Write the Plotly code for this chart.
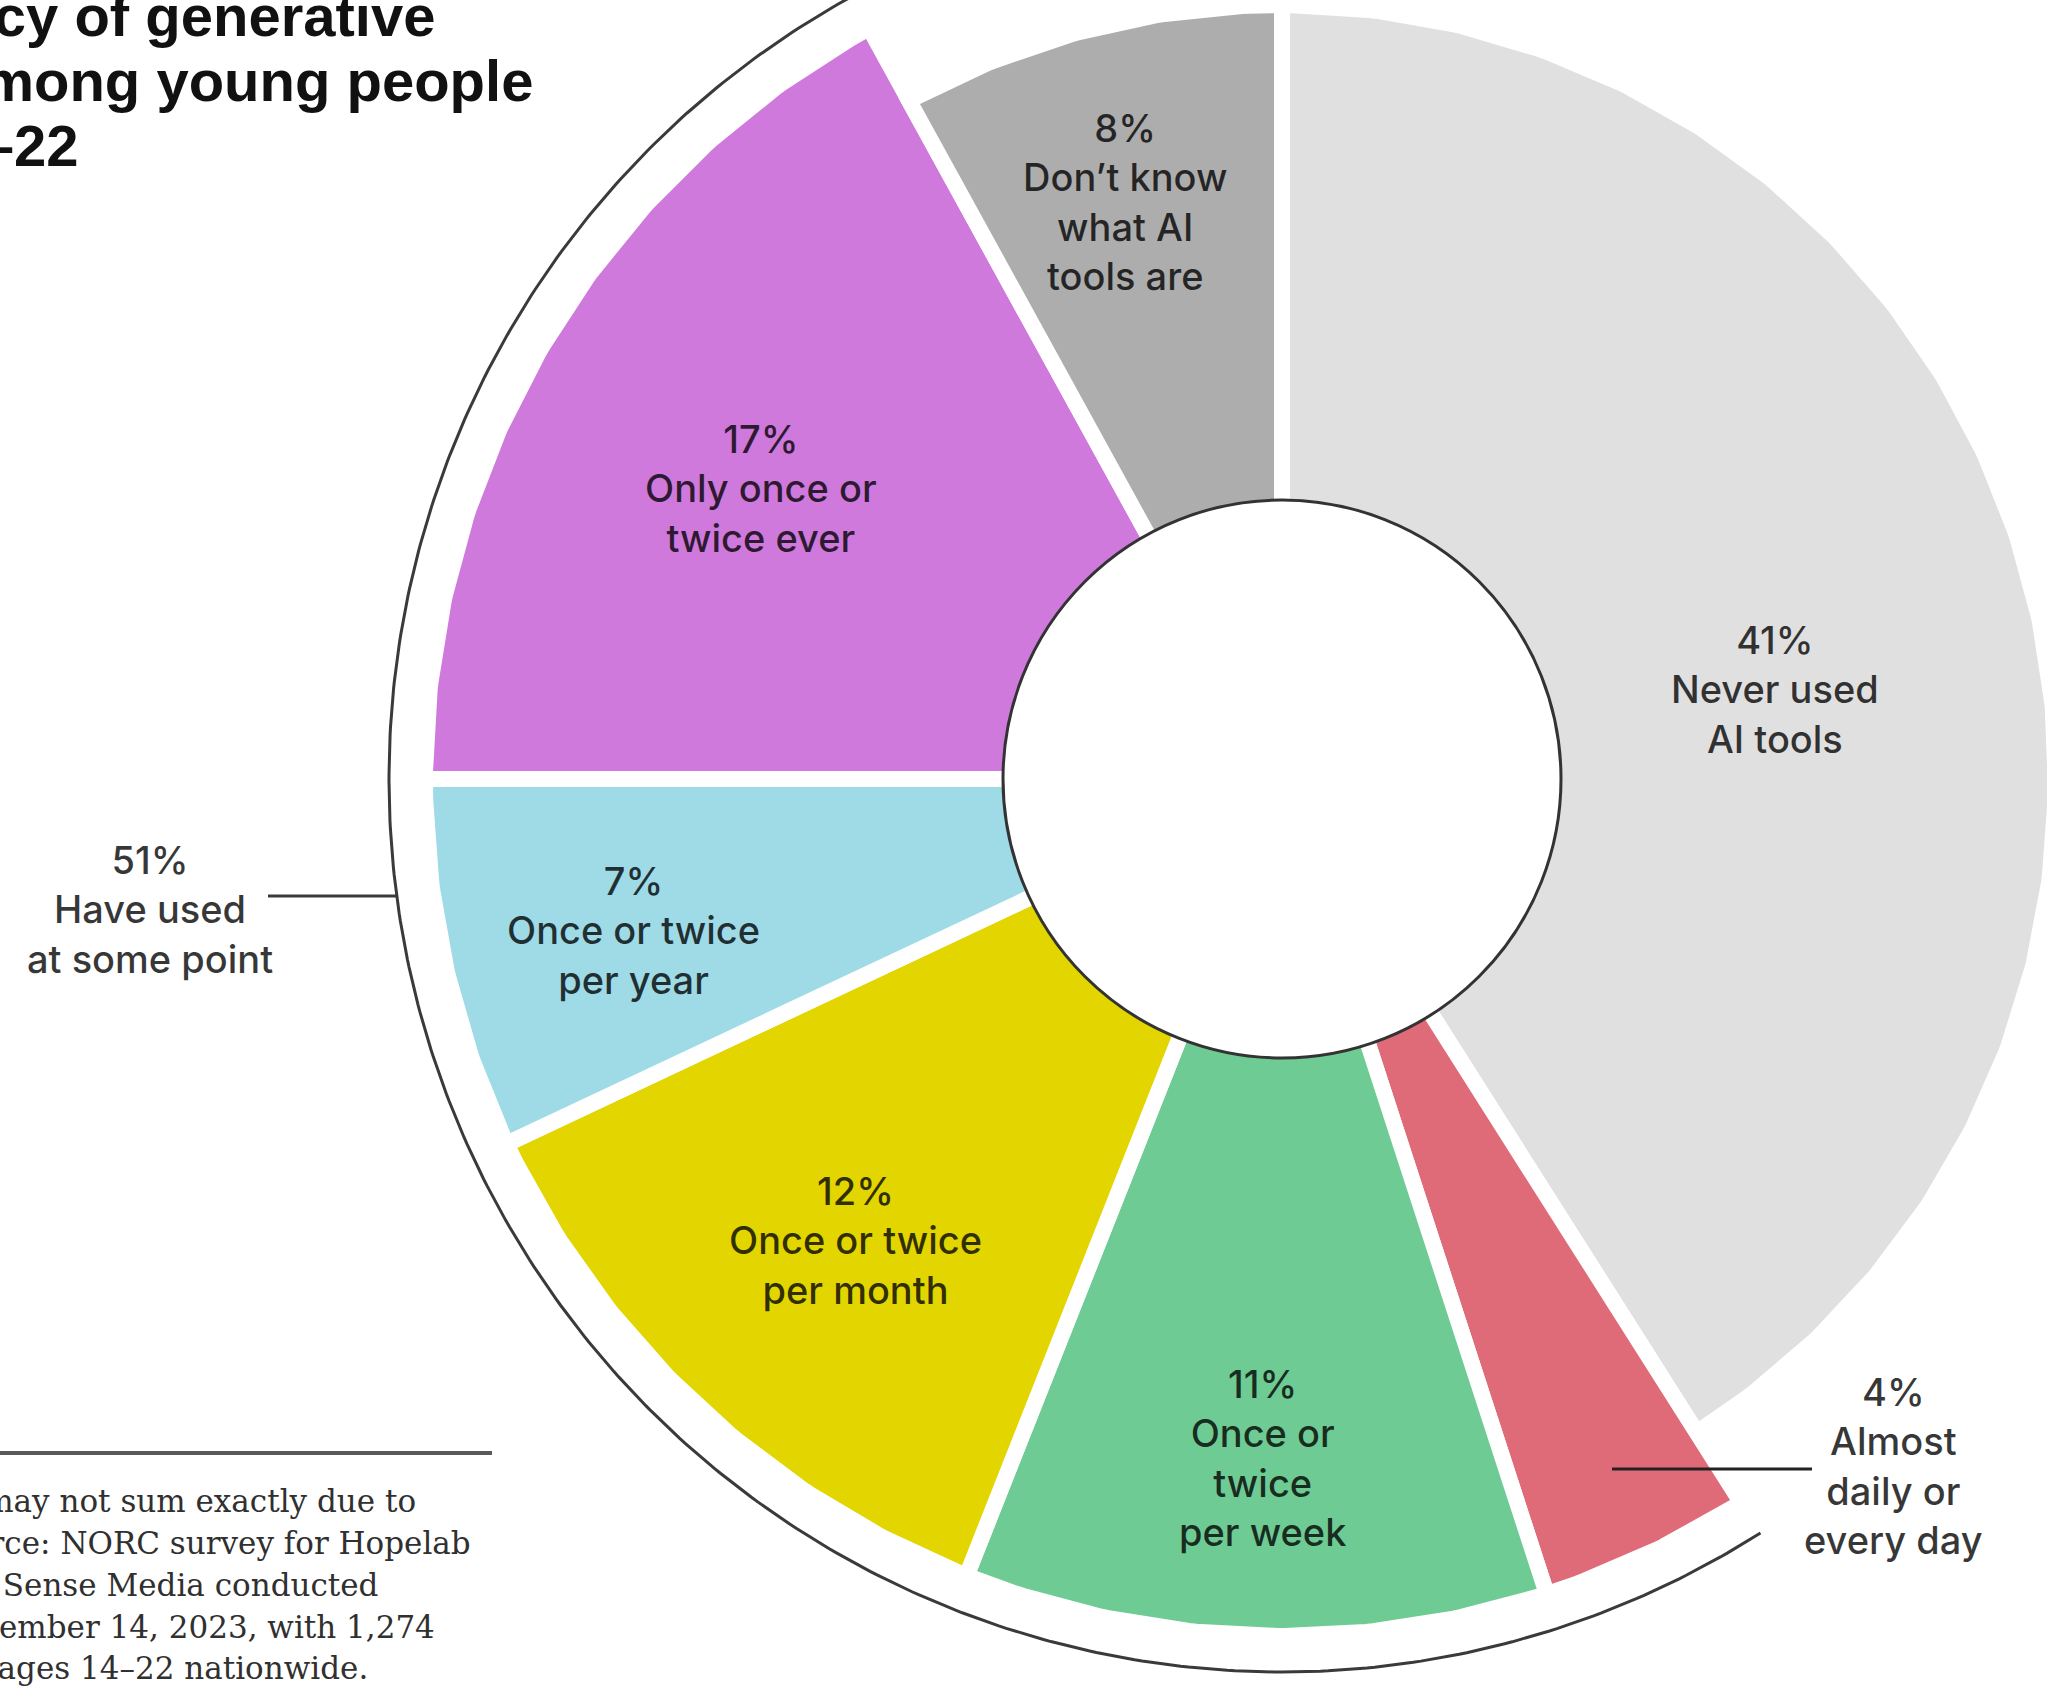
import numpy as np
import plotly.graph_objects as go

# ---------------- data ----------------
categories = [
    "Never used AI tools",
    "Almost daily or every day",
    "Once or twice per week",
    "Once or twice per month",
    "Once or twice per year",
    "Only once or twice ever",
    "Don't know what AI tools are",
]
values = [41, 4, 11, 12, 7, 17, 8]
have_used = [False, True, True, True, True, True, False]
slice_labels = [
    "41%<br>Never used<br>AI tools",
    "4%<br>Almost<br>daily or<br>every day",
    "11%<br>Once or<br>twice<br>per week",
    "12%<br>Once or twice<br>per month",
    "7%<br>Once or twice<br>per year",
    "17%<br>Only once or<br>twice ever",
    "8%<br>Don’t know<br>what AI<br>tools are",
]
group_label = "51%<br>Have used<br>at some point"
title_lines = ["Frequency of generative", "AI use among young people", "ages 14–22"]
note_lines = [
    "Percentages may not sum exactly due to",
    "rounding. Source: NORC survey for Hopelab",
    "and Common Sense Media conducted",
    "October 13–November 14, 2023, with 1,274",
    "young people ages 14–22 nationwide.",
]

# ---------------- style / layout ----------------
colors = ["#e0e0e0", "#e06b78", "#6fcb94", "#e2d500", "#9edbe7", "#cf79dd", "#adadad"]
W, H = 2047, 1686
CX, CY = 1282, 779           # pie centre in figure pixels
R_USED, R_NOT = 849, 766     # outer radii
HOLE = 279
GAP = 16
R_BRACKET = 893
LABEL_FONT = dict(family="Inter", size=38, color="rgba(0,0,0,0.78)", weight=500)

# label positions (centre of text block, relative to pie centre, y up)
label_pos = [(493, 90), (611, -687), (-20, -679), (-427, -461), (-649, -151), (-521, 291), (-157, 577)]


def arc(r, a0, a1):
    n = max(int(abs(a1 - a0) * 2) + 2, 8)
    t = np.radians(np.linspace(a0, a1, n))
    return r * np.sin(t), r * np.cos(t)


fig = go.Figure()

cum = np.cumsum(values)
total = cum[-1]
starts = 360.0 * (cum - np.array(values)) / total
ends = 360.0 * cum / total

for cat, s, e, col, used in zip(categories, starts, ends, colors, have_used):
    r = (R_USED if used else R_NOT) + GAP / 2
    xs, ys = arc(r, s, e)
    fig.add_trace(go.Scatter(
        x=np.concatenate([[0], xs, [0]]), y=np.concatenate([[0], ys, [0]]),
        mode="lines", fill="toself", fillcolor=col,
        line=dict(color="white", width=GAP), name=cat,
        hoverinfo="skip", showlegend=False))

# bracket arc around the "have used" group
used_idx = [i for i, u in enumerate(have_used) if u]
a_start, a_end = starts[used_idx[0]], ends[used_idx[-1]]
bx, by = arc(R_BRACKET, a_start, a_end)
fig.add_trace(go.Scatter(x=bx, y=by, mode="lines", line=dict(color="#3a3a3a", width=3),
                         hoverinfo="skip", showlegend=False))

# tick from group label to bracket
tick_y = -117
tick_x_end = -np.sqrt(R_BRACKET ** 2 - tick_y ** 2)
fig.add_trace(go.Scatter(x=[-1014, tick_x_end], y=[tick_y, tick_y], mode="lines",
                         line=dict(color="#3a3a3a", width=3), hoverinfo="skip", showlegend=False))

# leader line for the small slice
fig.add_trace(go.Scatter(x=[330, 530], y=[-690, -690], mode="lines",
                         line=dict(color="#222222", width=3), hoverinfo="skip", showlegend=False))

shapes = [
    dict(type="circle", xref="x", yref="y", x0=-HOLE, y0=-HOLE, x1=HOLE, y1=HOLE,
         fillcolor="white", line=dict(color="#333333", width=3), layer="above"),
    dict(type="line", xref="x", yref="y", x0=-CX - 10, x1=-790, y0=-674, y1=-674,
         line=dict(color="#5a5a5a", width=4)),
]

annotations = []
for txt, (lx, ly) in zip(slice_labels, label_pos):
    annotations.append(dict(x=lx, y=ly, xref="x", yref="y", text=txt, showarrow=False,
                            xanchor="center", yanchor="middle", align="center", font=LABEL_FONT))
annotations.append(dict(x=-1132, y=-130, xref="x", yref="y", text=group_label, showarrow=False,
                        xanchor="center", yanchor="middle", align="center", font=LABEL_FONT))

# title (cropped on the left like the reference)
title_right = [-845, -747, -1201]
title_y = [764, 699, 634]
for t, xr, yy in zip(title_lines, title_right, title_y):
    annotations.append(dict(x=xr, y=yy, xref="x", yref="y", text=f"<b>{t}</b>", showarrow=False,
                            xanchor="right", yanchor="middle",
                            font=dict(family="Liberation Sans", size=58, color="#111111")))

# footnote (cropped on the left like the reference)
note_right = [-864, -809, -902, -845, -912]
note_y = [-722, -764, -806, -848, -889]
for t, xr, yy in zip(note_lines, note_right, note_y):
    annotations.append(dict(x=xr, y=yy, xref="x", yref="y", text=t, showarrow=False,
                            xanchor="right", yanchor="middle",
                            font=dict(family="DejaVu Serif", size=31, color="#303030")))

fig.update_layout(
    width=W, height=H,
    margin=dict(l=0, r=0, t=0, b=0),
    paper_bgcolor="white", plot_bgcolor="white",
    xaxis=dict(range=[-CX, W - CX], visible=False, fixedrange=True),
    yaxis=dict(range=[-(H - CY), CY], visible=False, fixedrange=True),
    shapes=shapes, annotations=annotations, showlegend=False,
)

fig.write_html("out.html", config={"displayModeBar": False},
               post_script="document.body.style.margin='0';")
